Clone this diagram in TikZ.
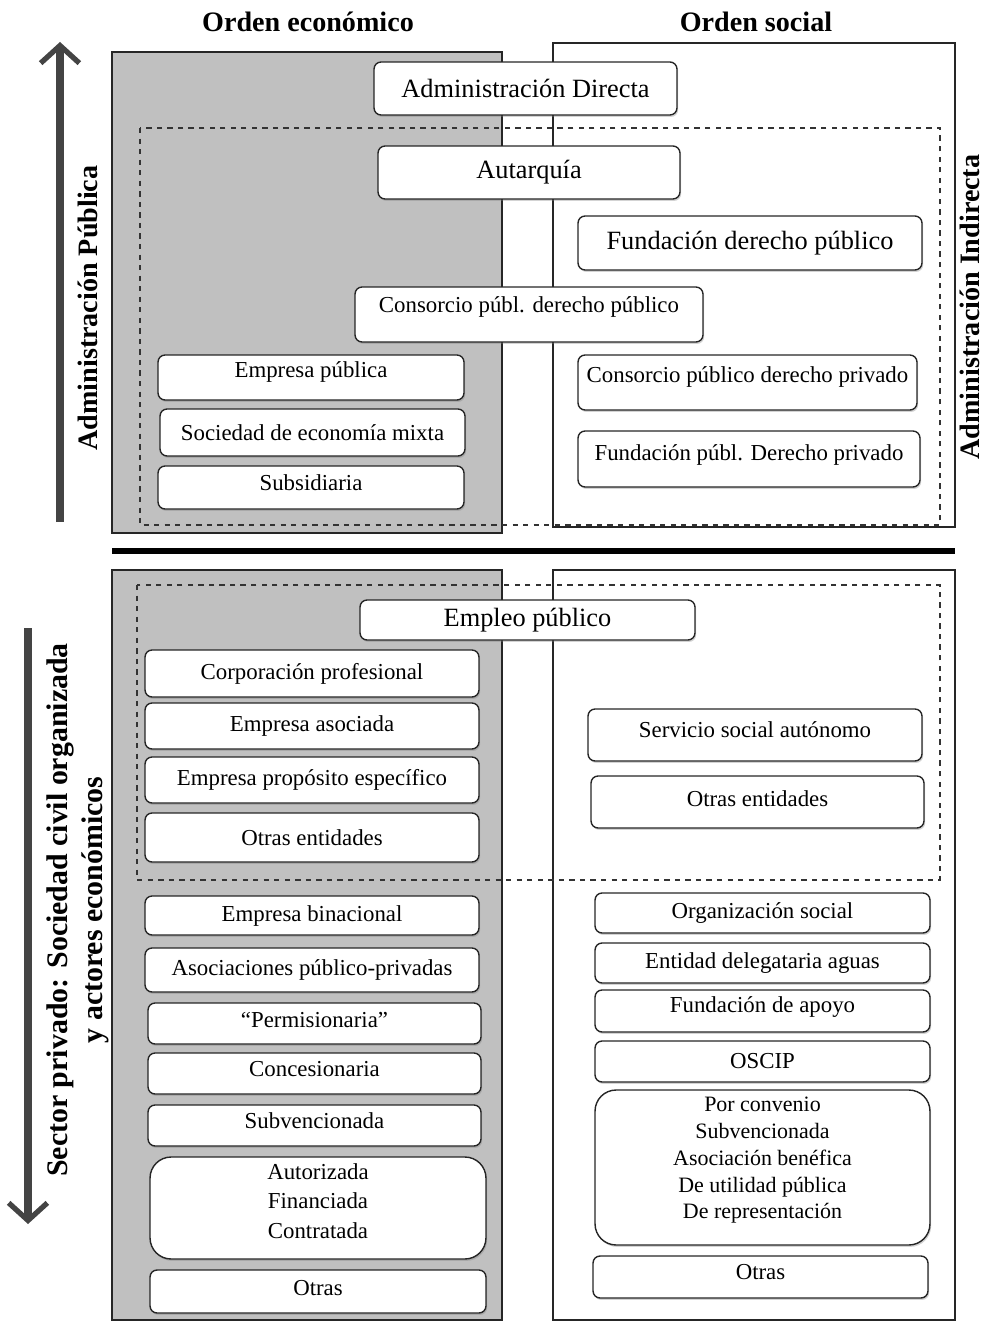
\documentclass[tikz,border=0pt]{standalone}
\usepackage{fontspec}
\setmainfont{Liberation Serif}
\usepackage{tikz}
\usetikzlibrary{arrows.meta, positioning, shadows}
\definecolor{panelgray}{RGB}{192, 192, 192}
\definecolor{arrowgray}{RGB}{68, 68, 68}

\begin{document}
\begin{tikzpicture}[
        x=0.02cm, y=-0.02cm,
        box/.style={rectangle, draw=black!85, line width=0.8pt, fill=white, rounded corners=4pt, align=center,
            font=\fontsize{13}{15}\selectfont, inner sep=1pt,
            drop shadow={shadow xshift=0.7pt, shadow yshift=-1.1pt, opacity=0.35}},
        bigbox/.style={box, font=\fontsize{15}{17}\selectfont},
        tallbox/.style={box, rounded corners=12pt},
        hi/.style={text depth=#1},
        panel/.style={draw=black!85, line width=0.9pt},
        zone/.style={draw=black!80, dashed, line width=0.6pt},
        header/.style={font=\bfseries\fontsize{16}{18}\selectfont},
        side/.style={font=\bfseries\fontsize{16}{19}\selectfont, rotate=90, align=center},
        axis/.style={draw=arrowgray, line width=5pt, -{Straight Barb[length=10pt, width=22pt, line width=3pt]}}
    ]
        \useasboundingbox (0,0) rectangle (986,1321);

        % Panels
        \fill[panelgray] (112,52) rectangle (502,533);
        \draw[panel] (112,52) rectangle (502,533);
        \draw[panel] (553,43) rectangle (955,527);
        \fill[panelgray] (112,570) rectangle (502,1320);
        \draw[panel] (112,570) rectangle (502,1320);
        \draw[panel] (553,570) rectangle (955,1320);
        \draw[zone] (140,128) rectangle (940,525);
        \draw[zone] (137,585) rectangle (940,880);
        \draw[line width=3pt] (112,551) -- (955,551);

        % Headers
        \node[header] (hecon) at (308,22) {Orden económico};
        \node[header] (hsoc) at (756,22) {Orden social};

        % Axes
        \coordinate (pubstart) at (60,522);
        \coordinate (pubend) at (60,42);
        \draw[axis] (pubstart) -- (pubend);
        \node[side] (lpub) at (88,308) {Administración Pública};
        \coordinate (privstart) at (28,628);
        \coordinate (privend) at (28,1224);
        \draw[axis] (privstart) -- (privend);
        \node[side, font=\bfseries\fontsize{17}{20}\selectfont] (lpriv) at (78,910) {Sector privado: Sociedad civil organizada\\y actores económicos};
        \node[side] (lind) at (970,307) {Administración Indirecta};

        % Administracion publica
        \node[bigbox, minimum width=6.06cm, minimum height=1.06cm] (adir) at (525.5,88.5) {Administración Directa};
        \node[bigbox, minimum width=6.04cm, minimum height=1.06cm] (autq) at (529,172.5) {Autarquía};
        \node[bigbox, minimum width=6.88cm, minimum height=1.08cm] (fdpub) at (750,243) {Fundación derecho público};
        \node[box, hi=11pt, minimum width=6.96cm, minimum height=1.10cm] (cpdp) at (529,314.5) {Consorcio públ. derecho público};
        \node[box, hi=8.6pt, minimum width=6.12cm, minimum height=0.90cm] (epub) at (311,377.5) {Empresa pública};
        \node[box, minimum width=6.10cm, minimum height=0.94cm] (sem) at (312.5,432.5) {Sociedad de economía mixta};
        \node[box, hi=5.7pt, minimum width=6.12cm, minimum height=0.86cm] (subs) at (311,487.5) {Subsidiaria};
        \node[box, hi=8.6pt, minimum width=6.78cm, minimum height=1.10cm] (cpdpr) at (747.5,382.5) {Consorcio público derecho privado};
        \node[box, hi=7.5pt, minimum width=6.84cm, minimum height=1.12cm] (fpdpr) at (749,459) {Fundación públ. Derecho privado};

        % Sector privado, zona de empleo publico
        \node[bigbox, minimum width=6.70cm, minimum height=0.80cm] (empleo) at (527.5,620) {Empleo público};
        \node[box, minimum width=6.68cm, minimum height=0.94cm] (corp) at (312,673.5) {Corporación profesional};
        \node[box, minimum width=6.68cm, minimum height=0.92cm] (easoc) at (312,726) {Empresa asociada};
        \node[box, minimum width=6.68cm, minimum height=0.92cm] (eprop) at (312,780) {Empresa propósito específico};
        \node[box, minimum width=6.68cm, minimum height=0.98cm] (otrasl) at (312,837.5) {Otras entidades};
        \node[box, hi=5.7pt, minimum width=6.68cm, minimum height=1.04cm] (ssa) at (755,735) {Servicio social autónomo};
        \node[box, hi=3.4pt, minimum width=6.66cm, minimum height=1.04cm] (otrasr) at (757.5,802) {Otras entidades};

        % Sector privado, orden economico
        \node[box, minimum width=6.68cm, minimum height=0.78cm] (ebin) at (312,915.5) {Empresa binacional};
        \node[box, minimum width=6.68cm, minimum height=0.88cm] (app) at (312,970) {Asociaciones público-privadas};
        \node[box, hi=4.6pt, minimum width=6.66cm, minimum height=0.82cm] (perm) at (314.5,1023.5) {“Permisionaria”};
        \node[box, hi=5.7pt, minimum width=6.66cm, minimum height=0.82cm] (conc) at (314.5,1073.5) {Concesionaria};
        \node[box, hi=5.7pt, minimum width=6.66cm, minimum height=0.82cm] (subv) at (314.5,1125.5) {Subvencionada};
        \node[tallbox, hi=8pt, minimum width=6.72cm, minimum height=2.04cm, font=\fontsize{13}{17}\selectfont] (afc) at (318,1208) {Autorizada\\Financiada\\Contratada};
        \node[box, hi=4.6pt, minimum width=6.72cm, minimum height=0.86cm] (otl) at (318,1291.5) {Otras};

        % Sector privado, orden social
        \node[box, minimum width=6.70cm, minimum height=0.80cm] (orgs) at (762.5,913) {Organización social};
        \node[box, minimum width=6.70cm, minimum height=0.80cm] (edel) at (762.5,963) {Entidad delegataria aguas};
        \node[box, hi=7.5pt, minimum width=6.70cm, minimum height=0.84cm] (fapoyo) at (762.5,1011) {Fundación de apoyo};
        \node[box, minimum width=6.70cm, minimum height=0.82cm] (oscip) at (762.5,1061.5) {OSCIP};
        \node[tallbox, hi=11pt, minimum width=6.70cm, minimum height=3.10cm, font=\fontsize{12.5}{15.3}\selectfont] (conv) at (762.5,1167.5) {Por convenio\\Subvencionada\\Asociación benéfica\\De utilidad pública\\De representación};
        \node[box, hi=5.7pt, minimum width=6.70cm, minimum height=0.84cm] (otr) at (760.5,1277) {Otras};
    \end{tikzpicture}
\end{document}
